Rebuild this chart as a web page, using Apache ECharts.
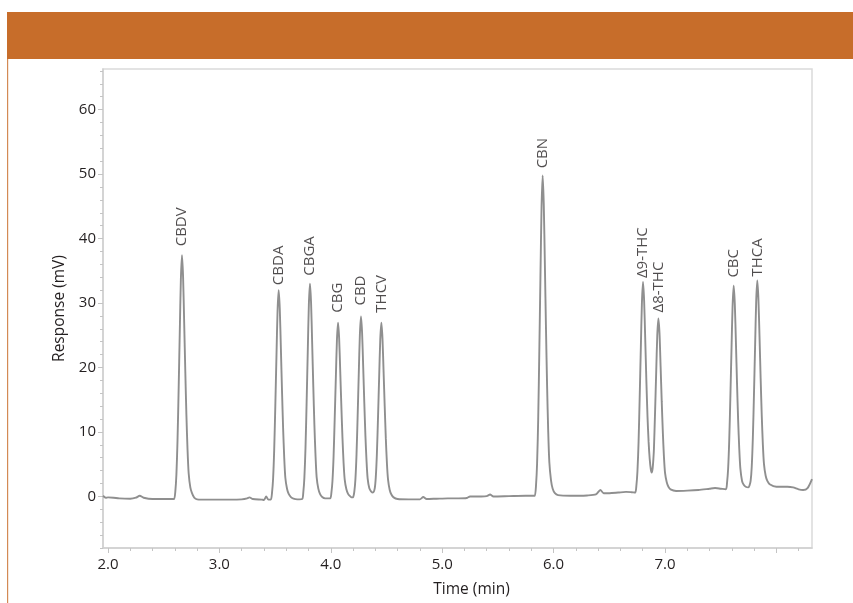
<!DOCTYPE html>
<html>
<head>
<meta charset="utf-8">
<script src="https://cdn.jsdelivr.net/npm/echarts@6/dist/echarts.min.js"></script>
<style>
html,body{margin:0;padding:0;background:#fff;}
#chart{width:853px;height:603px;}
</style>
</head>
<body>
<div id="chart"></div>
<script>
// ---- data ----
const TRACE = [
[1.955,0.1],[1.98,-0.2],[2.00,-0.15],[2.05,-0.2],[2.10,-0.3],[2.20,-0.35],[2.25,-0.2],[2.285,0.1],[2.32,-0.2],[2.40,-0.4],[2.50,-0.4],[2.58,-0.4],
[2.594,-0.4],[2.604,0.7],[2.614,3.4],[2.624,8.7],[2.634,16.6],[2.644,25.3],[2.654,33.6],[2.664,37.4],[2.674,34.0],[2.684,26.8],[2.694,19.3],[2.704,12.5],[2.714,7.2],[2.724,3.6],[2.739,1.4],[2.754,0.5],[2.774,-0.2],
[2.80,-0.45],[2.90,-0.5],[3.00,-0.5],[3.10,-0.5],[3.20,-0.45],[3.25,-0.3],[3.27,-0.15],[3.30,-0.4],[3.38,-0.5],[3.40,-0.55],[3.42,0.0],[3.44,-0.5],
[3.462,-0.5],[3.472,0.5],[3.482,2.75],[3.492,7.3],[3.502,14.1],[3.512,21.6],[3.522,28.75],[3.532,32.0],[3.542,29.1],[3.552,22.9],[3.562,16.4],[3.572,10.55],[3.582,6.0],[3.592,2.9],[3.607,1.2],[3.622,0.4],[3.642,-0.1],[3.665,-0.35],[3.70,-0.45],
[3.743,-0.4],[3.753,0.6],[3.763,2.94],[3.773,7.6],[3.783,14.6],[3.793,22.3],[3.803,29.7],[3.813,33.0],[3.823,30.0],[3.833,23.6],[3.843,17.0],[3.853,11.0],[3.863,6.3],[3.873,3.0],[3.888,1.2],[3.903,0.4],[3.923,-0.1],[3.95,-0.3],
[3.995,-0.3],[4.005,0.5],[4.015,2.4],[4.025,6.2],[4.035,12.0],[4.045,18.2],[4.055,24.2],[4.065,26.95],[4.075,24.5],[4.085,19.3],[4.095,13.9],[4.105,9.0],[4.115,5.15],[4.125,2.6],[4.14,1.1],[4.155,0.4],[4.175,0.0],[4.187,-0.15],
[4.201,-0.1],[4.211,0.7],[4.221,2.65],[4.231,6.55],[4.241,12.45],[4.251,18.95],[4.261,25.05],[4.271,27.9],[4.281,25.35],[4.291,20.05],[4.301,14.45],[4.311,9.35],[4.321,5.45],[4.331,2.75],[4.346,1.25],[4.361,0.8],[4.378,0.6],
[4.394,1.2],[4.404,3.0],[4.414,6.7],[4.424,12.3],[4.434,18.4],[4.444,24.3],[4.454,26.95],[4.464,24.5],[4.474,19.3],[4.484,14.0],[4.494,9.0],[4.504,5.1],[4.514,2.6],[4.529,1.0],[4.544,0.3],[4.564,-0.15],[4.60,-0.4],
[4.70,-0.45],[4.80,-0.45],[4.83,-0.1],[4.86,-0.4],[4.95,-0.35],[5.05,-0.3],[5.15,-0.3],[5.22,-0.25],[5.25,0.0],[5.35,0.0],[5.40,0.05],[5.43,0.3],[5.46,0.0],[5.60,0.05],[5.75,0.1],[5.82,0.1],
[5.832,0.1],[5.842,1.6],[5.852,5.1],[5.862,12.0],[5.872,22.5],[5.882,33.9],[5.892,44.8],[5.902,49.8],[5.912,45.3],[5.922,35.9],[5.932,25.9],[5.942,17.0],[5.952,10.0],[5.962,5.3],[5.977,2.5],[5.992,1.2],[6.012,0.5],
[6.04,0.2],[6.15,0.1],[6.30,0.15],[6.38,0.3],[6.42,1.0],[6.45,0.5],[6.50,0.5],[6.58,0.6],[6.65,0.7],[6.70,0.65],
[6.733,0.6],[6.743,1.6],[6.753,3.9],[6.763,8.4],[6.773,15.3],[6.783,22.8],[6.793,30.0],[6.803,33.25],[6.813,30.3],[6.823,24.3],[6.833,18.0],[6.843,12.5],[6.853,8.5],[6.863,5.8],[6.873,4.2],[6.881,3.7],[6.889,4.3],[6.896,5.8],
[6.901,7.4],[6.911,13.0],[6.921,19.1],[6.931,25.0],[6.941,27.6],[6.951,25.3],[6.961,20.1],[6.971,14.7],[6.981,9.9],[6.991,6.1],[7.001,3.6],[7.016,2.2],[7.031,1.5],[7.05,1.1],
[7.10,0.85],[7.20,0.9],[7.30,1.0],[7.40,1.2],[7.45,1.3],[7.50,1.2],[7.547,1.1],
[7.557,2.05],[7.567,4.3],[7.577,8.7],[7.587,15.3],[7.597,22.6],[7.607,29.5],[7.617,32.7],[7.627,29.9],[7.637,23.9],[7.647,17.5],[7.657,11.8],[7.667,7.4],[7.677,4.3],[7.692,2.4],[7.707,1.8],[7.725,1.5],[7.749,1.4],
[7.759,1.7],[7.769,2.4],[7.779,4.6],[7.789,9.1],[7.799,15.8],[7.809,23.2],[7.819,30.3],[7.829,33.5],[7.839,30.6],[7.849,24.7],[7.859,18.3],[7.869,12.5],[7.879,8.0],[7.889,5.0],[7.904,3.2],[7.919,2.4],[7.94,1.9],
[8.00,1.5],[8.10,1.5],[8.15,1.4],[8.20,1.1],[8.24,1.0],[8.28,1.3],[8.32,2.7]
];
const PEAK_NAMES   = ['CBDV','CBDA','CBGA','CBG','CBD','THCV','CBN','Δ9-THC','Δ8-THC','CBC','THCA'];
const PEAK_TIMES   = [2.664,3.532,3.813,4.065,4.271,4.454,5.902,6.803,6.941,7.617,7.829];
const PEAK_HEIGHTS = [37.4,32.0,33.0,26.95,27.9,26.95,49.8,33.25,27.6,32.7,33.5];
const X_TICK_LABELS = [2,3,4,5,6,7];
const X_MAJOR_TICKS = [2,3,4,5,6,7,8];
const Y_TICK_LABELS = [0,10,20,30,40,50,60];
const X_NAME = 'Time (min)';
const Y_NAME = 'Response (mV)';

// ---- layout / style (not data) ----
const LABEL_GAPS = [9,5,8,10,11,10,7,4,3,8,4];
const LABEL_DX   = [0,0,0,0,0,0,0,0,3,0,0];
const X_MIN = 1.955, X_MAX = 8.32, Y_MIN = -8, Y_MAX = 66.3;
const xMinor = []; for (let v = 20; v <= 82; v += 2) xMinor.push(v / 10);
const yMinor = []; for (let v = -8; v <= 66; v += 2) yMinor.push(v);

const FONT = '"Open Sans", "Noto Sans", sans-serif';
const AX = '#cfcfcf';
const TXT = '#231f20';

const chart = echarts.init(document.getElementById('chart'), null, {renderer: 'canvas'});

const labelData = PEAK_NAMES.map((n, i) => ({
  name: n,
  value: [PEAK_TIMES[i], PEAK_HEIGHTS[i]],
  label: {distance: LABEL_GAPS[i], offset: [LABEL_DX[i], 0]}
}));

chart.setOption({
  animation: false,
  backgroundColor: '#ffffff',
  textStyle: {fontFamily: FONT},
  graphic: [
    {type: 'rect', shape: {x: 7, y: 12, width: 846, height: 47}, style: {fill: '#C76D2A'}, silent: true},
    {type: 'rect', shape: {x: 7, y: 59, width: 1.2, height: 544}, style: {fill: '#D38A55'}, silent: true}
  ],
  grid: {left: 103, right: 41, top: 69, bottom: 54, show: true, borderColor: '#dadada', borderWidth: 1.5, backgroundColor: 'transparent'},
  xAxis: [
    {
      type: 'value', min: X_MIN, max: X_MAX, position: 'bottom',
      name: X_NAME, nameLocation: 'middle', nameGap: 34,
      nameTextStyle: {fontFamily: FONT, fontSize: 15.5, color: TXT, padding: [0, 0, 0, 28]},
      axisLine: {show: true, onZero: false, lineStyle: {color: AX, width: 1.5}},
      axisTick: {show: true, customValues: X_MAJOR_TICKS, length: 5, lineStyle: {color: '#c4c4c4', width: 1}},
      axisLabel: {show: true, customValues: X_TICK_LABELS, margin: 9, fontFamily: FONT, fontSize: 15, color: TXT,
        formatter: v => Number(v).toFixed(1)},
      splitLine: {show: false}
    },
    {
      type: 'value', min: X_MIN, max: X_MAX, position: 'bottom', offset: 0,
      axisLine: {show: false, onZero: false},
      axisTick: {show: true, customValues: xMinor, length: 3, lineStyle: {color: '#c4c4c4', width: 1}},
      axisLabel: {show: false},
      splitLine: {show: false}
    }
  ],
  yAxis: [
    {
      type: 'value', min: Y_MIN, max: Y_MAX, position: 'left',
      name: Y_NAME, nameLocation: 'middle', nameGap: 33,
      nameTextStyle: {fontFamily: FONT, fontSize: 15.5, color: TXT},
      axisLine: {show: true, onZero: false, lineStyle: {color: AX, width: 1.5}},
      axisTick: {show: true, customValues: Y_TICK_LABELS, length: 5, lineStyle: {color: '#c4c4c4', width: 1}},
      axisLabel: {show: true, customValues: Y_TICK_LABELS, margin: 7, fontFamily: FONT, fontSize: 15, color: TXT},
      splitLine: {show: false}
    },
    {
      type: 'value', min: Y_MIN, max: Y_MAX, position: 'left', offset: 0,
      axisLine: {show: false, onZero: false},
      axisTick: {show: true, customValues: yMinor, length: 3, lineStyle: {color: '#c4c4c4', width: 1}},
      axisLabel: {show: false},
      splitLine: {show: false}
    }
  ],
  series: [
    {
      type: 'line', xAxisIndex: 0, yAxisIndex: 0,
      data: TRACE, showSymbol: false, symbol: 'none', smooth: 0.25,
      lineStyle: {color: '#8f8f8f', width: 1.9},
      silent: true, z: 3
    },
    {
      type: 'scatter', xAxisIndex: 0, yAxisIndex: 0,
      data: labelData, symbolSize: 0, itemStyle: {color: 'transparent'},
      silent: true, z: 4,
      label: {
        show: true, position: 'top', rotate: 90, align: 'left', verticalAlign: 'middle',
        formatter: p => p.name, fontFamily: FONT, fontSize: 15, color: TXT
      }
    }
  ]
});
</script>
</body>
</html>
